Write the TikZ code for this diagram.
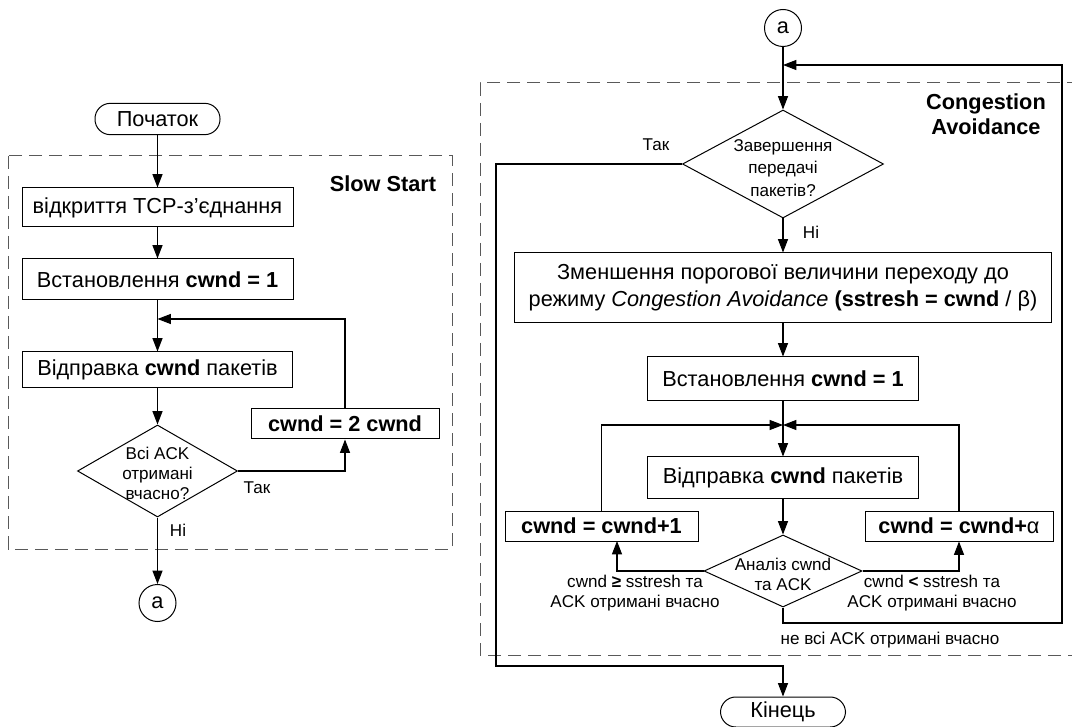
\documentclass[tikz,border=0pt]{standalone}
\usepackage{fontspec}
\setmainfont{Liberation Sans}
\usetikzlibrary{shapes.geometric,arrows.meta}
\begin{document}
\begin{tikzpicture}[x=0.75pt,y=-0.75pt,
  every node/.style={font=\fontsize{16.3}{19}\selectfont, inner sep=0pt},
  boxst/.style={draw, line width=0.75pt},
  bld/.style={font=\bfseries\fontsize{16.3}{19}\selectfont},
  term/.style={draw, line width=0.75pt, rounded corners=11.5pt, minimum width=93.75pt, minimum height=23.5pt},
  conn/.style={draw, line width=0.75pt, circle, minimum size=27.75pt},
  dia/.style={draw, line width=0.75pt, diamond},
  smalltxt/.style={font=\fontsize{12.8}{15}\selectfont},
  ttl/.style={font=\bfseries\fontsize{16.3}{18.75}\selectfont, align=center},
  ln/.style={line width=0.8pt},
  arr/.style={ln, -{Triangle[length=10pt,width=7.5pt]}},
  dframe/.style={line width=0.75pt, draw=black!65, dash pattern=on 10pt off 5pt}
]
\useasboundingbox (0,0) rectangle (1072,727);

% ---------------- Slow Start ----------------
\draw[dframe] (8,156) rectangle (452,549);
\node[term] (start) at (157.5,119) {Початок};
\node[ttl] (ss) at (383,184) {Slow Start};
\node[boxst, minimum width=203.25pt, minimum height=29.25pt] (b1) at (157.5,207.5) {відкриття TCP-з’єднання};
\node[boxst, minimum width=203.25pt, minimum height=30.75pt] (b2) at (157.5,279.5) {Встановлення \textbf{cwnd = 1}};
\coordinate (j1) at (157.5,319);
\node[boxst, minimum width=202.5pt, minimum height=27pt] (b3) at (157.5,370) {Відправка \textbf{cwnd} пакетів};
\node[dia, minimum width=120pt, minimum height=69pt] (d1) at (157.5,471) {};
\node[smalltxt, align=center] (d1t) at (157.5,473) {Всі ACK\\отримані\\вчасно?};
\node[boxst, bld, minimum width=141pt, minimum height=22.5pt] (b4) at (345,424) {cwnd = 2 cwnd};
\node[smalltxt] (l1) at (257,488) {Так};
\node[smalltxt] (l2) at (178,530) {Ні};
\node[conn] (a1) at (157.5,603) {a};

\draw[arr] (start) -- (b1);
\draw[arr] (b1) -- (b2);
\draw[arr] (b2) -- (b3);
\draw[arr] (b3) -- (d1);
\draw[arr] (d1.east) -| (b4.south);
\draw[arr] (b4.north) |- (j1);
\draw[arr] (d1) -- (a1);

% ---------------- Congestion Avoidance ----------------
\draw[dframe] (1080,83) -- (480,83) -- (480,655) -- (1080,655);
\node[conn] (a2) at (783,28) {a};
\coordinate (j2) at (783,65);
\node[ttl] (ca) at (986,114) {Congestion\\Avoidance};
\node[dia, minimum width=150.75pt, minimum height=81pt] (d2) at (783,164) {};
\node[smalltxt, align=center, font=\fontsize{12.8}{17}\selectfont] (d2t) at (783,168) {Завершення\\передачі\\пакетів?};
\node[smalltxt] (l3) at (656,145) {Так};
\node[smalltxt] (l4) at (811,232) {Ні};
\node[boxst, minimum width=402.75pt, minimum height=52.5pt, align=center, font=\fontsize{16.3}{20.25}\selectfont] (b5) at (783,288)
  {Зменшення порогової величини переходу до\\режиму \textit{Congestion Avoidance} \textbf{(sstresh = cwnd} / β)};
\node[boxst, minimum width=203.25pt, minimum height=33pt] (b6) at (783,379) {Встановлення \textbf{cwnd = 1}};
\coordinate (j3) at (783,425);
\node[boxst, minimum width=203.25pt, minimum height=30.75pt] (b7) at (783,477.5) {Відправка \textbf{cwnd} пакетів};
\node[boxst, bld, minimum width=144.75pt, minimum height=22.5pt] (b8) at (601.5,526) {cwnd = cwnd+1};
\node[boxst, minimum width=141pt, minimum height=22.5pt] (b9) at (959,526) {\textbf{cwnd = cwnd+}α};
\node[dia, minimum width=118.5pt, minimum height=54pt] (d3) at (783,571) {};
\node[smalltxt, align=center] (d3t) at (783,574) {Аналіз cwnd\\та ACK};
\node[smalltxt, align=center] (l5) at (635,593) {cwnd \textbf{≥} sstresh та\\ACK отримані вчасно};
\node[smalltxt, align=center] (l6) at (932,593) {cwnd \textbf{<} sstresh та\\ACK отримані вчасно};
\node[smalltxt] (l7) at (890,640) {не всі ACK отримані вчасно};
\node[term, minimum height=22.5pt] (end) at (783,712) {Кінець};

\coordinate (c1) at (496,164);
\coordinate (c2) at (496,666);
\coordinate (p1) at (617,541);
\coordinate (r1) at (1062,623);

\draw[arr] (a2) -- (d2);
\draw[arr] (d2) -- (b5);
\draw[arr] (b5) -- (b6);
\draw[arr] (b6) -- (b7);
\draw[arr] (b7) -- (d3);
\draw[arr] (d2.west) -- (c1) -- (c2) -| (end.north);
\draw[arr] (d3.west) -| (p1);
\draw[arr] (d3.east) -| (b9.south);
\draw[arr] (b8.north) |- (j3);
\draw[arr] (b9.north) |- (j3);
\draw[arr] (d3.south) |- (r1) |- (j2);
\end{tikzpicture}
\end{document}
